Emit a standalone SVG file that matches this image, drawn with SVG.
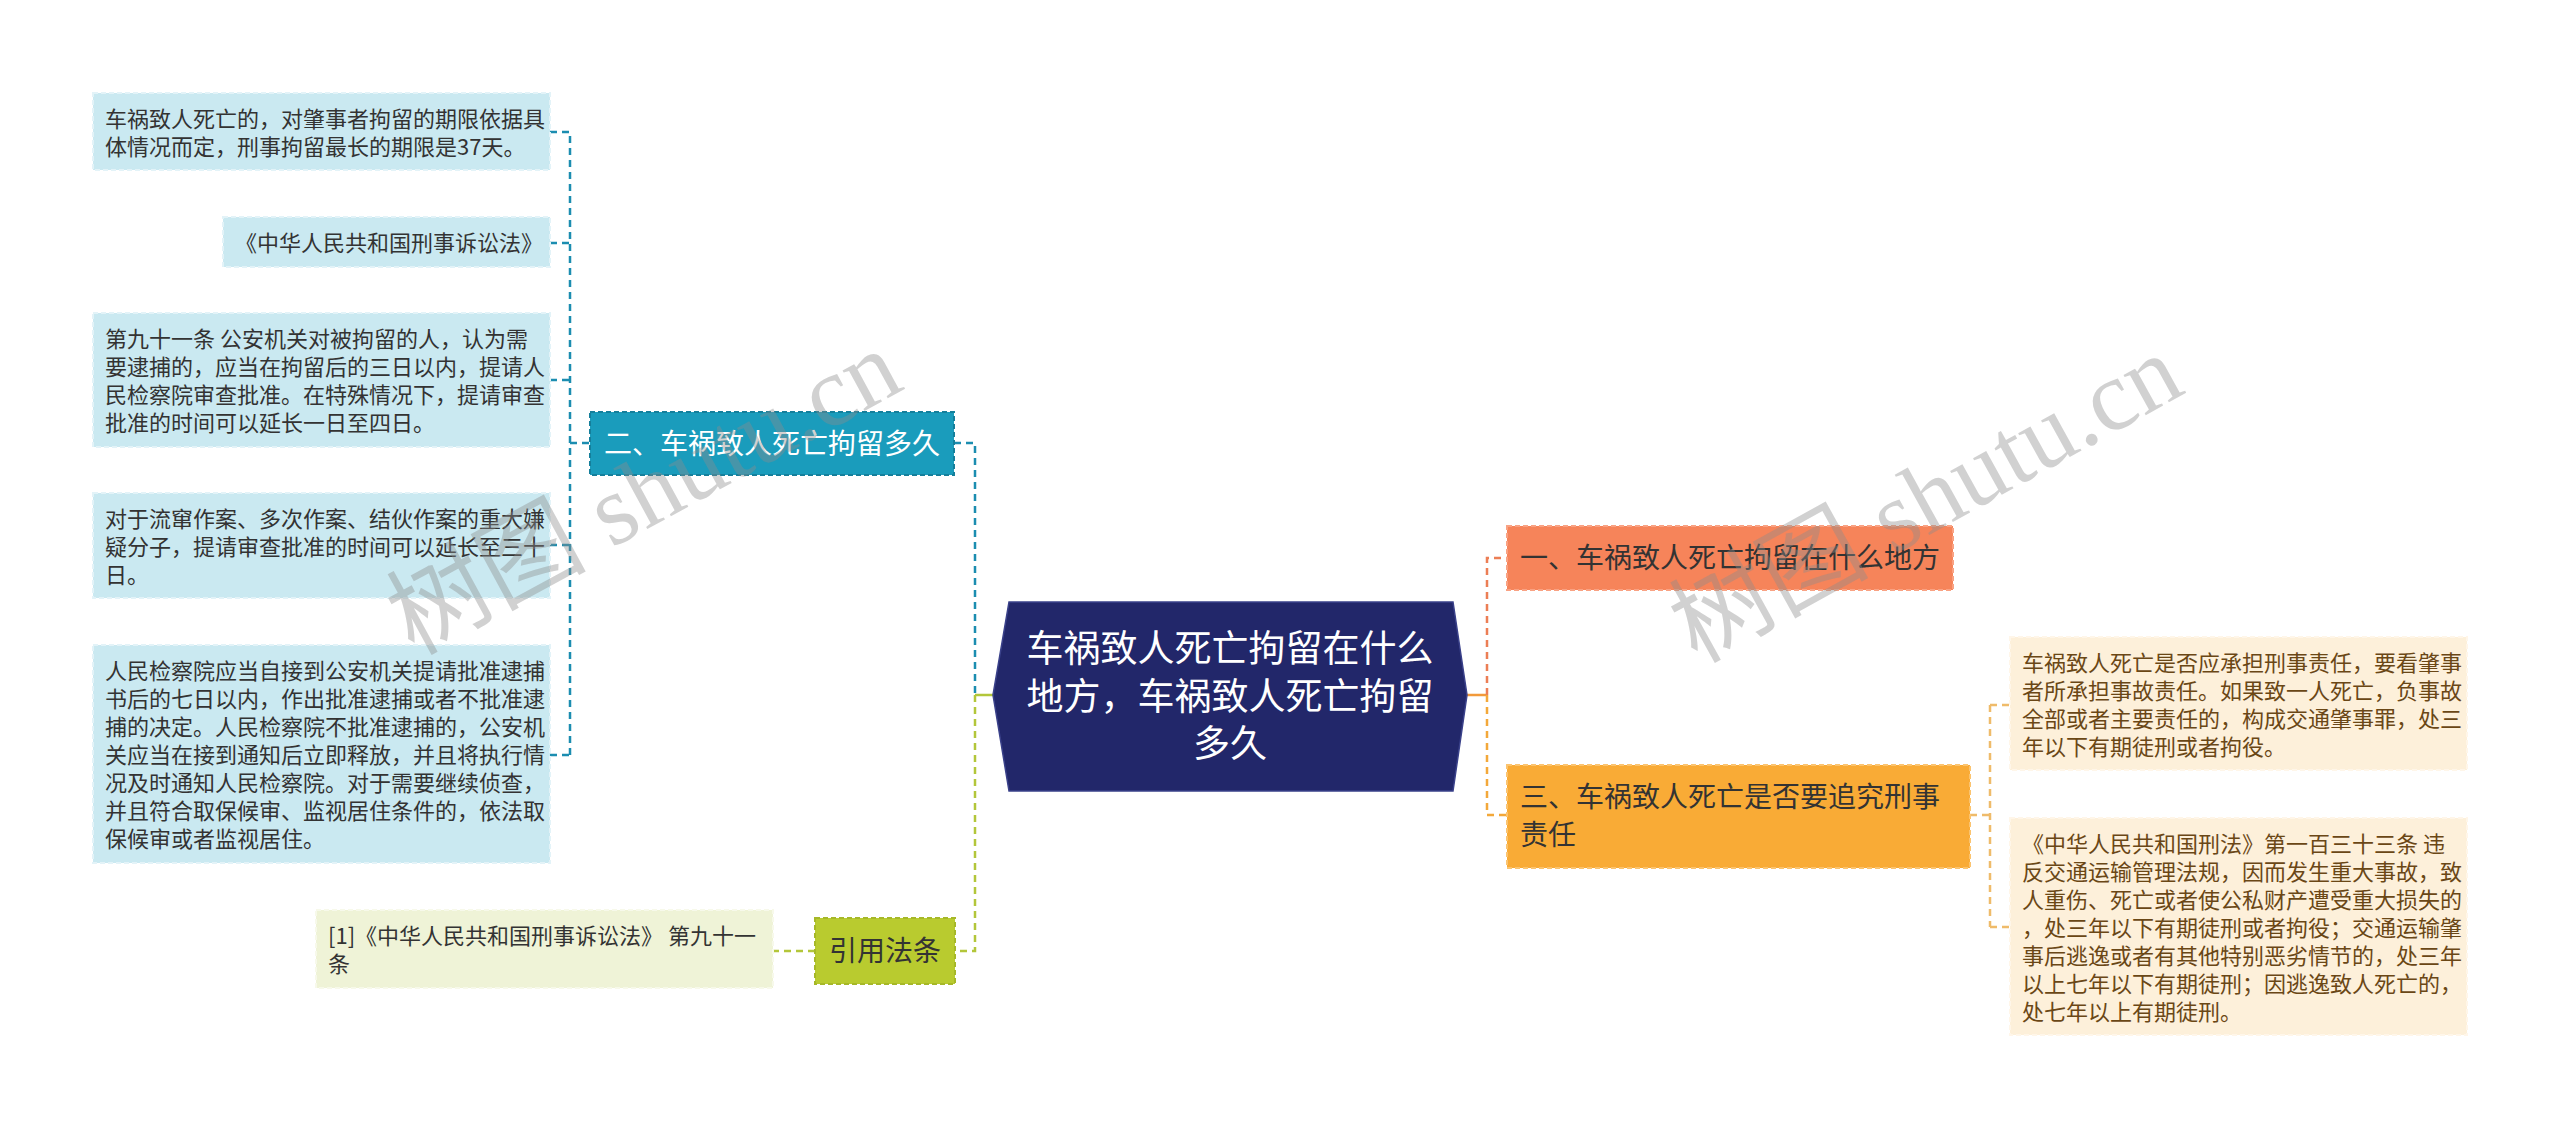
<svg xmlns="http://www.w3.org/2000/svg" width="2560" height="1129" viewBox="0 0 2560 1129">
<style>
text{font-family:"Noto Sans CJK SC","Noto Sans",sans-serif;}
.leafL{fill:#cae9f1;stroke:#e3f3f8;stroke-width:2;stroke-dasharray:5 3;}
.leafR{fill:#fdf0da;stroke:#fff6e9;stroke-width:2;stroke-dasharray:5 3;}
.leafG{fill:#eff3d7;stroke:#f7f9ea;stroke-width:2;stroke-dasharray:5 3;}
.tL{font-size:22px;fill:#333333;}
.tR{font-size:22px;fill:#6a4716;}
.tB{font-size:28px;}
.c{fill:none;stroke-width:2.5;stroke-dasharray:7 5;}
.teal{stroke:#1b8db0;}
.green{stroke:#b3c63a;}
.coral{stroke:#ec7e55;}
.amber{stroke:#f3a83a;}
.amberL{stroke:#efbb6a;}
.wm{font-family:"Liberation Serif","Noto Sans CJK SC",serif;font-size:100px;fill:#8c8c8c;fill-opacity:0.4;}
</style>
<rect width="2560" height="1129" fill="#ffffff"/>
<g id="connectors">
  <path class="c teal" d="M550,132 H570 V755 M550,243 H570 M550,380 H570 M550,545 H570 M550,755 H570 M570,443 H590"/>
  <path class="c teal" d="M954,443 H975 V695"/>
  <path class="c green" d="M975,695 V951 H955 M815,951 H773"/>
  <path d="M993,695 H975" stroke="#b3c63a" stroke-width="2.5" fill="none"/>
  <path d="M1467,695 H1487" stroke="#f29a3a" stroke-width="2.5" fill="none"/>
  <path class="c coral" d="M1487,695 V558 H1507"/>
  <path class="c amber" d="M1487,695 V815 H1507"/>
  <path class="c amberL" d="M1970,815 H1990 M1990,705 V927 M1990,705 H2010 M1990,927 H2010"/>
</g>
<g id="root">
  <polygon points="993,695 1009,602 1453,602 1467,695 1453,791 1009,791" fill="#22276a" stroke="#3a418a" stroke-width="1.5"/>
  <text font-size="37" fill="#ffffff" text-anchor="middle"><tspan x="1230" y="662">车祸致人死亡拘留在什么</tspan><tspan x="1230" y="709.5">地方，车祸致人死亡拘留</tspan><tspan x="1230" y="757">多久</tspan></text>
</g>
<g id="b2">
  <rect x="590" y="412" width="364" height="63" fill="#1a9cbc" stroke="#157f9b" stroke-width="2" stroke-dasharray="5 3"/>
  <text class="tB" fill="#ffffff" text-anchor="middle" x="772" y="453.5">二、车祸致人死亡拘留多久</text>
</g>
<g id="l1">
  <rect class="leafL" x="93" y="93" width="457" height="77"/>
  <text class="tL"><tspan x="105" y="126.5">车祸致人死亡的，对肇事者拘留的期限依据具</tspan><tspan x="105" y="154.5">体情况而定，刑事拘留最长的期限是37天。</tspan></text>
</g>
<g id="l2">
  <rect class="leafL" x="223" y="217" width="327" height="50"/>
  <text class="tL" x="235" y="251">《中华人民共和国刑事诉讼法》</text>
</g>
<g id="l3">
  <rect class="leafL" x="93" y="313" width="457" height="134"/>
  <text class="tL"><tspan x="105" y="347">第九十一条 公安机关对被拘留的人，认为需</tspan><tspan x="105" y="375">要逮捕的，应当在拘留后的三日以内，提请人</tspan><tspan x="105" y="403">民检察院审查批准。在特殊情况下，提请审查</tspan><tspan x="105" y="431">批准的时间可以延长一日至四日。</tspan></text>
</g>
<g id="l4">
  <rect class="leafL" x="93" y="493" width="457" height="105"/>
  <text class="tL"><tspan x="105" y="526.5">对于流窜作案、多次作案、结伙作案的重大嫌</tspan><tspan x="105" y="554.5">疑分子，提请审查批准的时间可以延长至三十</tspan><tspan x="105" y="582.5">日。</tspan></text>
</g>
<g id="l5">
  <rect class="leafL" x="93" y="645" width="457" height="218"/>
  <text class="tL"><tspan x="105" y="679">人民检察院应当自接到公安机关提请批准逮捕</tspan><tspan x="105" y="707">书后的七日以内，作出批准逮捕或者不批准逮</tspan><tspan x="105" y="735">捕的决定。人民检察院不批准逮捕的，公安机</tspan><tspan x="105" y="763">关应当在接到通知后立即释放，并且将执行情</tspan><tspan x="105" y="791">况及时通知人民检察院。对于需要继续侦查，</tspan><tspan x="105" y="819">并且符合取保候审、监视居住条件的，依法取</tspan><tspan x="105" y="847">保候审或者监视居住。</tspan></text>
</g>
<g id="cite">
  <rect x="815" y="918" width="140" height="66" fill="#b9cb2f" stroke="#a6b828" stroke-width="2" stroke-dasharray="5 3"/>
  <text class="tB" fill="#333333" text-anchor="middle" x="885" y="961">引用法条</text>
</g>
<g id="cite1">
  <rect class="leafG" x="316" y="910" width="457" height="78"/>
  <text class="tL"><tspan x="328" y="944">[1]《中华人民共和国刑事诉讼法》 第九十一</tspan><tspan x="328" y="972">条</tspan></text>
</g>
<g id="b1">
  <rect x="1507" y="526" width="446" height="64" fill="#f6845a" stroke="#f9a283" stroke-width="2" stroke-dasharray="5 3"/>
  <text class="tB" fill="#333333" x="1520" y="568">一、车祸致人死亡拘留在什么地方</text>
</g>
<g id="b3">
  <rect x="1507" y="765" width="463" height="103" fill="#f9ab36" stroke="#fbc470" stroke-width="2" stroke-dasharray="5 3"/>
  <text class="tB" fill="#333333"><tspan x="1520" y="807">三、车祸致人死亡是否要追究刑事</tspan><tspan x="1520" y="845">责任</tspan></text>
</g>
<g id="r1">
  <rect class="leafR" x="2010" y="637" width="457" height="133"/>
  <text class="tR"><tspan x="2022" y="670.5">车祸致人死亡是否应承担刑事责任，要看肇事</tspan><tspan x="2022" y="698.5">者所承担事故责任。如果致一人死亡，负事故</tspan><tspan x="2022" y="726.5">全部或者主要责任的，构成交通肇事罪，处三</tspan><tspan x="2022" y="754.5">年以下有期徒刑或者拘役。</tspan></text>
</g>
<g id="r2">
  <rect class="leafR" x="2010" y="818" width="457" height="217"/>
  <text class="tR"><tspan x="2022" y="851.5">《中华人民共和国刑法》第一百三十三条 违</tspan><tspan x="2022" y="879.5">反交通运输管理法规，因而发生重大事故，致</tspan><tspan x="2022" y="907.5">人重伤、死亡或者使公私财产遭受重大损失的</tspan><tspan x="2022" y="935.5">，处三年以下有期徒刑或者拘役；交通运输肇</tspan><tspan x="2022" y="963.5">事后逃逸或者有其他特别恶劣情节的，处三年</tspan><tspan x="2022" y="991.5">以上七年以下有期徒刑；因逃逸致人死亡的，</tspan><tspan x="2022" y="1019.5">处七年以上有期徒刑。</tspan></text>
</g>
<g id="watermark">
  <text class="wm" text-anchor="middle" transform="translate(660,522) rotate(-28.5)">树图 shutu.cn</text>
  <text class="wm" text-anchor="middle" transform="translate(1942,528) rotate(-29)">树图 shutu.cn</text>
</g>
</svg>
